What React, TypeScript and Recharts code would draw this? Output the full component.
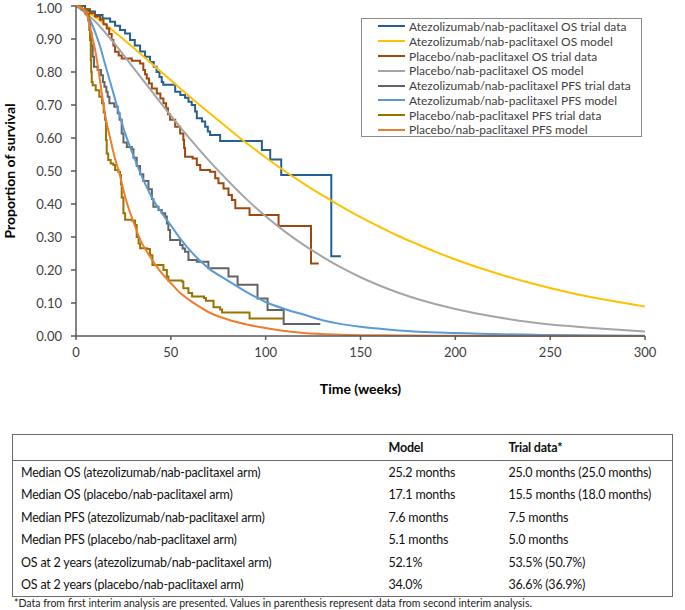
import React from 'react';
import { LineChart, Line, XAxis, YAxis, Legend, Label } from 'recharts';

// survival curves: [week, proportion]
const atezoOsTrial = [
  [0, 1], [4.8, 0.99], [6.5, 0.983], [10, 0.973], [14, 0.962], [18, 0.952], [20.6, 0.94],
  [23.2, 0.927], [25.9, 0.917], [28.5, 0.897], [31, 0.88], [33.8, 0.862], [36.4, 0.846],
  [39, 0.83], [41, 0.816], [42.5, 0.8], [44, 0.785], [45.2, 0.77], [46, 0.761], [52.3, 0.74],
  [55, 0.73], [57.5, 0.722], [59.3, 0.71], [61, 0.7], [62.8, 0.68], [63.7, 0.66], [66.4, 0.65],
  [68.1, 0.634], [69.5, 0.62], [70.7, 0.609], [76, 0.591], [98, 0.564], [102.4, 0.535],
  [108.2, 0.488], [134.6, 0.242], [139.7, 0.242],
];
const atezoOsModel = [
  [0, 1], [10, 0.967], [20, 0.923], [30, 0.875], [40, 0.825], [50, 0.775], [60, 0.725],
  [70, 0.677], [80, 0.63], [90, 0.584], [100, 0.541], [110, 0.5], [120, 0.462], [130, 0.426],
  [140, 0.392], [150, 0.36], [160, 0.331], [170, 0.303], [180, 0.278], [190, 0.254],
  [200, 0.232], [220, 0.193], [240, 0.16], [260, 0.132], [280, 0.109], [300, 0.089],
];
const placeboOsTrial = [
  [0, 1], [3, 0.99], [7.4, 0.978], [10, 0.968], [12.7, 0.958], [14.5, 0.945], [16.2, 0.932],
  [17.5, 0.915], [18.8, 0.897], [19.7, 0.88], [20.6, 0.861], [22.5, 0.85], [24.1, 0.841],
  [29.4, 0.834], [33.8, 0.826], [35.5, 0.806], [36.4, 0.793], [37.3, 0.78], [38.5, 0.765],
  [40, 0.75], [42.6, 0.735], [44.5, 0.72], [46.1, 0.705], [47.5, 0.69], [48.5, 0.672],
  [49.6, 0.655], [52.3, 0.634], [54.9, 0.614], [56.6, 0.594], [57, 0.57], [57.5, 0.543],
  [61.5, 0.538], [63.7, 0.518], [65.5, 0.503], [70.7, 0.498], [73.4, 0.478], [75.1, 0.463],
  [77.8, 0.447], [80.4, 0.427], [82.2, 0.412], [84, 0.387], [91.5, 0.367], [106.8, 0.333],
  [123.9, 0.22], [128, 0.22],
];
const placeboOsModel = [
  [0, 1], [10, 0.954], [20, 0.888], [30, 0.815], [40, 0.741], [50, 0.668], [60, 0.598],
  [70, 0.532], [80, 0.471], [90, 0.414], [100, 0.363], [110, 0.317], [120, 0.276], [130, 0.24],
  [140, 0.207], [150, 0.178], [160, 0.153], [170, 0.131], [180, 0.112], [200, 0.082],
  [220, 0.059], [240, 0.042], [260, 0.03], [280, 0.021], [300, 0.014],
];
const atezoPfsTrial = [
  [0, 1], [3, 0.99], [5, 0.975], [6.5, 0.955], [7.5, 0.92], [8.2, 0.88], [8.8, 0.846],
  [9.5, 0.816], [11.4, 0.806], [13.2, 0.79], [14.2, 0.77], [15, 0.755], [16, 0.74],
  [16.7, 0.725], [17.6, 0.705], [20.2, 0.695], [22, 0.675], [23, 0.655], [24.1, 0.614],
  [25, 0.586], [26.8, 0.573], [29.4, 0.566], [30.3, 0.54], [32, 0.515], [33.8, 0.49],
  [35.5, 0.47], [38.2, 0.445], [40, 0.415], [40.8, 0.392], [43.5, 0.382], [45.2, 0.372],
  [47, 0.362], [47.9, 0.341], [48.7, 0.321], [49.6, 0.291], [54.9, 0.276], [56.2, 0.265],
  [57.5, 0.255], [59.3, 0.23], [63.7, 0.225], [69.8, 0.205], [80.4, 0.18], [85.2, 0.155],
  [95.7, 0.114], [101, 0.079], [109.5, 0.036], [128.8, 0.036],
];
const atezoPfsModel = [
  [0, 1], [4, 0.99], [8, 0.95], [12, 0.89], [16, 0.81], [20, 0.73], [25, 0.63], [30, 0.55],
  [35, 0.48], [40, 0.42], [45, 0.375], [50, 0.335], [55, 0.295], [60, 0.26], [70, 0.205],
  [80, 0.168], [90, 0.133], [100, 0.103], [110, 0.082], [120, 0.065], [130, 0.048],
  [140, 0.036], [150, 0.028], [170, 0.017], [200, 0.009], [250, 0.003], [300, 0.001],
];
const placeboPfsTrial = [
  [0, 1], [3, 0.99], [5.5, 0.975], [6.7, 0.958], [7, 0.927], [7.4, 0.897], [7.8, 0.836],
  [8, 0.8], [8.3, 0.77], [8.8, 0.76], [10.4, 0.745], [12.3, 0.725], [13.7, 0.705],
  [14.6, 0.677], [15.3, 0.655], [15.8, 0.594], [16.2, 0.553], [17, 0.533], [18.3, 0.523],
  [19.7, 0.518], [20.6, 0.503], [22.3, 0.498], [23.2, 0.488], [23.7, 0.46], [24.1, 0.42],
  [25, 0.372], [25.9, 0.352], [29.4, 0.35], [31.1, 0.336], [32, 0.3], [33, 0.28],
  [33.8, 0.266], [37.3, 0.264], [39, 0.245], [40.3, 0.215], [46.1, 0.2], [47.9, 0.18],
  [48.7, 0.168], [55.8, 0.165], [56.6, 0.145], [59.3, 0.13], [61.2, 0.12], [67.5, 0.115],
  [68.5, 0.107], [72.5, 0.087], [76, 0.08], [77, 0.071], [91.5, 0.053], [109.1, 0.053],
];
const placeboPfsModel = [
  [0, 1], [4, 0.99], [6, 0.97], [8, 0.92], [10, 0.87], [12, 0.8], [14, 0.72], [16, 0.65],
  [18, 0.6], [20, 0.55], [23, 0.49], [26, 0.42], [30, 0.35], [34, 0.29], [38, 0.25],
  [42, 0.215], [46, 0.185], [50, 0.16], [55, 0.13], [60, 0.108], [65, 0.089], [70, 0.072],
  [80, 0.05], [90, 0.035], [100, 0.024], [110, 0.015], [120, 0.009], [140, 0.004],
  [160, 0.002], [200, 0.0005], [300, 0],
];

const xTicks = [0, 50, 100, 150, 200, 250, 300];
const yTicks = [0, 0.1, 0.2, 0.3, 0.4, 0.5, 0.6, 0.7, 0.8, 0.9, 1];

const tableHead = ['', 'Model', 'Trial data*'];
const tableLabels = [
  'Median OS (atezolizumab/nab-paclitaxel arm)',
  'Median OS (placebo/nab-paclitaxel arm)',
  'Median PFS (atezolizumab/nab-paclitaxel arm)',
  'Median PFS (placebo/nab-paclitaxel arm)',
  'OS at 2 years (atezolizumab/nab-paclitaxel arm)',
  'OS at 2 years (placebo/nab-paclitaxel arm)',
];
const modelValues = ['25.2 months', '17.1 months', '7.6 months', '5.1 months', '52.1%', '34.0%'];
const trialValues = [
  '25.0 months (25.0 months)',
  '15.5 months (18.0 months)',
  '7.5 months',
  '5.0 months',
  '53.5% (50.7%)',
  '36.6% (36.9%)',
];
const footnote =
  '*Data from first interim analysis are presented. Values in parenthesis represent data from second interim analysis.';

const toPts = (rows: number[][]) => rows.map(([t, s]) => ({ t, s }));

const series = [
  { name: 'Atezolizumab/nab-paclitaxel OS trial data', data: atezoOsTrial, color: '#255E91', step: true },
  { name: 'Atezolizumab/nab-paclitaxel OS model', data: atezoOsModel, color: '#FFC000', step: false },
  { name: 'Placebo/nab-paclitaxel OS trial data', data: placeboOsTrial, color: '#9E480E', step: true },
  { name: 'Placebo/nab-paclitaxel OS model', data: placeboOsModel, color: '#A5A5A5', step: false },
  { name: 'Atezolizumab/nab-paclitaxel PFS trial data', data: atezoPfsTrial, color: '#636363', step: true },
  { name: 'Atezolizumab/nab-paclitaxel PFS model', data: atezoPfsModel, color: '#5B9BD5', step: false },
  { name: 'Placebo/nab-paclitaxel PFS trial data', data: placeboPfsTrial, color: '#997300', step: true },
  { name: 'Placebo/nab-paclitaxel PFS model', data: placeboPfsModel, color: '#ED7D31', step: false },
];

const FONT = 'Lato, "Noto Sans", sans-serif';

const LegendBox = () => (
  <div
    style={{
      width: 281,
      height: 119,
      boxSizing: 'border-box',
      border: '1px solid #8c8c8c',
      background: '#fff',
    }}
  >
    {series.map((s) => (
      <div key={s.name} style={{ display: 'flex', alignItems: 'center', height: 14.8 }}>
        <div style={{ marginLeft: 16, width: 27, height: 2, background: s.color }} />
        <span style={{ marginLeft: 4, fontSize: 12, color: '#404040', fontFamily: FONT, whiteSpace: 'nowrap' }}>
          {s.name}
        </span>
      </div>
    ))}
  </div>
);

const cell: React.CSSProperties = { padding: '0 0 0 8px', height: 22.5, whiteSpace: 'nowrap' };
const colWidths = [368, 120, 172];

export default function App() {
  return (
    <div style={{ position: 'absolute', left: 0, top: 0, width: 685, height: 610, background: '#fff', fontFamily: FONT }}>
      <LineChart width={685} height={410} margin={{ top: 6, right: 40, bottom: 0, left: 0 }} style={{ fontFamily: FONT }}>
        <XAxis
          type="number"
          dataKey="t"
          domain={[0, 300]}
          ticks={xTicks}
          height={74}
          tickSize={4}
          tickMargin={8}
          axisLine={{ stroke: '#595959', strokeWidth: 1.5 }}
          tickLine={{ stroke: '#595959', strokeWidth: 1.5 }}
          tick={{ fill: '#404040', fontSize: 13 }}
        >
          <Label value="Time (weeks)" position="insideBottom" offset={16} style={{ fontWeight: 700, fontSize: 14, fill: '#000' }} />
        </XAxis>
        <YAxis
          type="number"
          dataKey="s"
          domain={[0, 1]}
          ticks={yTicks}
          width={76}
          tickSize={5}
          tickMargin={9}
          tickFormatter={(v: number) => v.toFixed(2)}
          axisLine={{ stroke: '#595959', strokeWidth: 1.5 }}
          tickLine={{ stroke: '#595959', strokeWidth: 1.5 }}
          tick={{ fill: '#404040', fontSize: 13 }}
        >
          <Label
            value="Proportion of survival"
            angle={-90}
            position="insideLeft"
            offset={10}
            style={{ textAnchor: 'middle', fontWeight: 700, fontSize: 14, fill: '#000' }}
          />
        </YAxis>
        <Legend
          layout="vertical"
          align="center"
          verticalAlign="middle"
          content={() => <LegendBox />}
          wrapperStyle={{ left: 361, top: 18, width: 281 }}
        />
        {series.map((s) => (
          <Line
            key={s.name}
            name={s.name}
            data={toPts(s.data)}
            dataKey="s"
            type={s.step ? 'stepAfter' : 'monotone'}
            stroke={s.color}
            strokeWidth={2}
            dot={false}
            activeDot={false}
            isAnimationActive={false}
          />
        ))}
      </LineChart>
      <table
        style={{
          position: 'absolute',
          left: 12,
          top: 434,
          width: 660,
          tableLayout: 'fixed',
          borderCollapse: 'collapse',
          border: '1.5px solid #6b6b6b',
          fontSize: 12.5,
          letterSpacing: -0.2,
          color: '#111',
        }}
      >
        <colgroup>
          {colWidths.map((w, i) => (
            <col key={i} style={{ width: w }} />
          ))}
        </colgroup>
        <thead>
          <tr style={{ borderBottom: '1.5px solid #6b6b6b' }}>
            {tableHead.map((h, i) => (
              <th key={i} style={{ ...cell, height: 25, textAlign: 'left', fontWeight: 700 }}>
                {h}
              </th>
            ))}
          </tr>
        </thead>
        <tbody>
          {tableLabels.map((label, i) => (
            <tr key={label}>
              <td style={cell}>{label}</td>
              <td style={cell}>{modelValues[i]}</td>
              <td style={cell}>{trialValues[i]}</td>
            </tr>
          ))}
        </tbody>
      </table>
      <div style={{ position: 'absolute', left: 14, top: 597, fontSize: 10.5, color: '#222', whiteSpace: 'nowrap' }}>
        {footnote}
      </div>
    </div>
  );
}
